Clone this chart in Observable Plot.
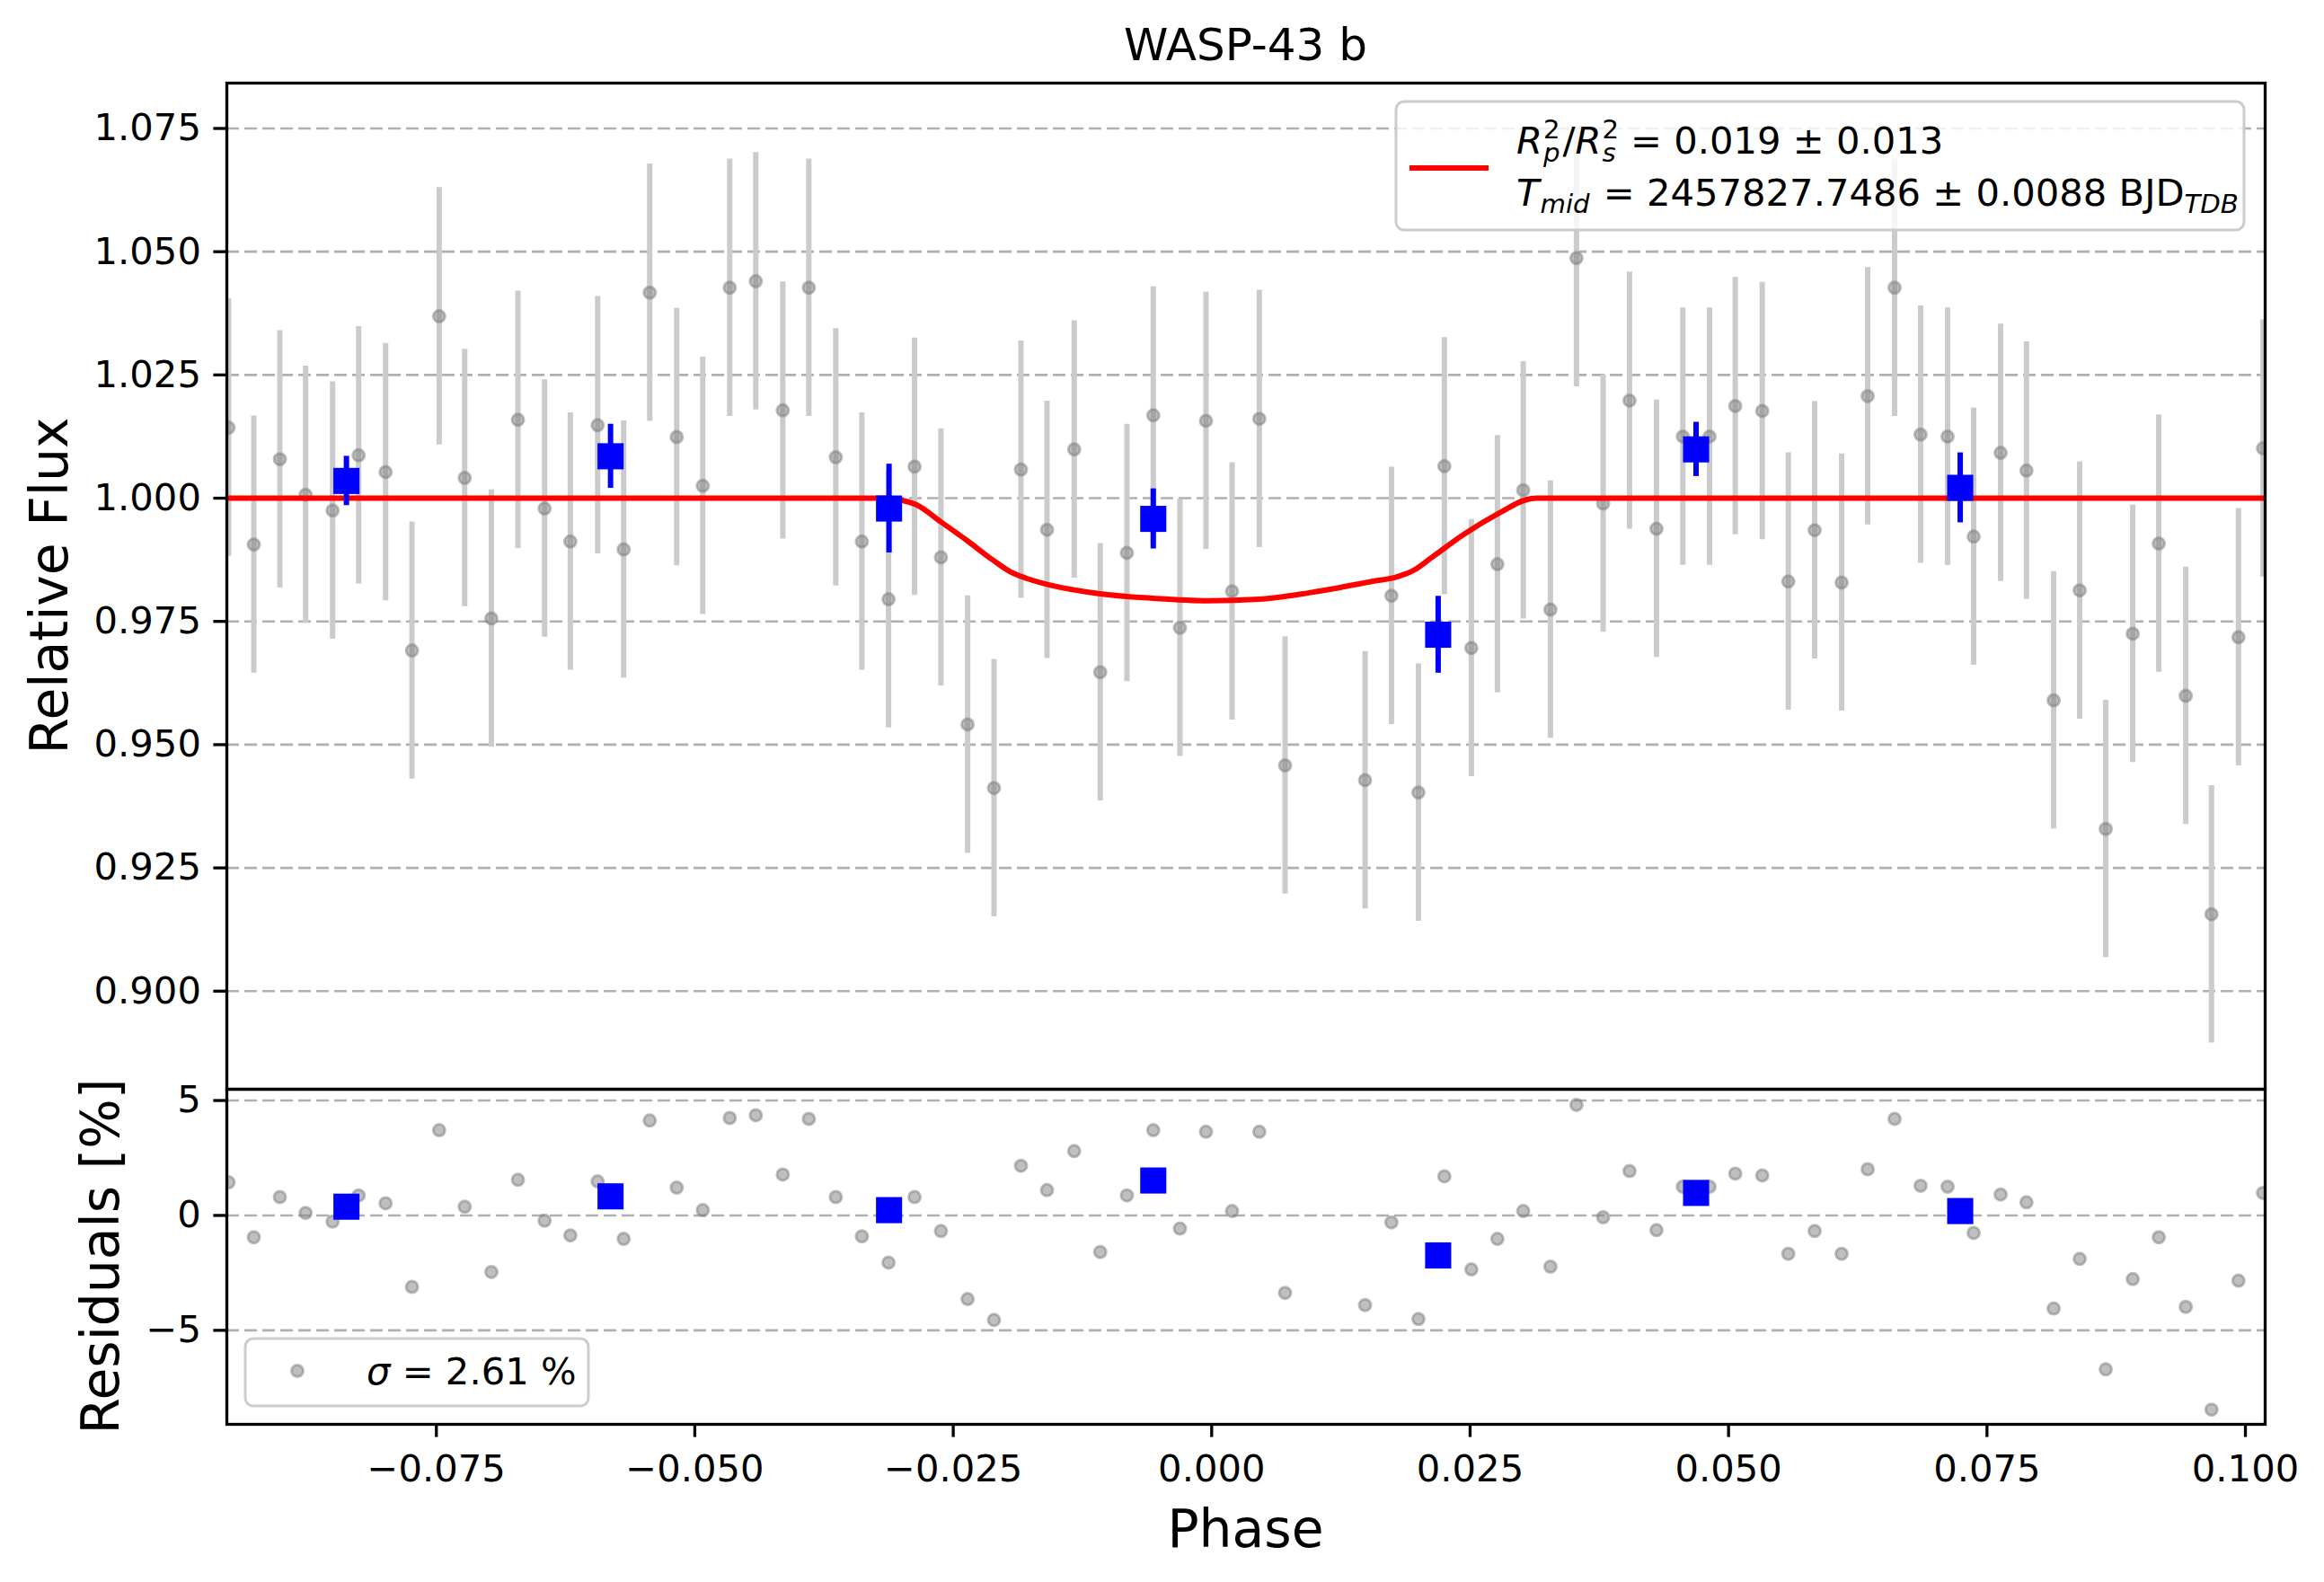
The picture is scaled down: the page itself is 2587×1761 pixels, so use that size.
<!DOCTYPE html>
<html>
<head>
<meta charset="utf-8">
<script src="https://cdn.jsdelivr.net/npm/d3@7"></script>
<script src="https://cdn.jsdelivr.net/npm/@observablehq/plot@0.6"></script>
<style>
  body { margin: 0; background: #fff; }
  #wrap { position: relative; width: 2587px; height: 1761px; background: #fff; overflow: hidden; font-family: "DejaVu Sans", sans-serif; }
  #wrap svg { position: absolute; left: 0; max-width: none !important; }
  #wrap svg text { white-space: pre; }
</style>
</head>
<body>
<div id="wrap"></div>
<script>
// ---------- data ----------
const phase = [
  -0.09510, -0.09266, -0.09014, -0.08765, -0.08504, -0.08252, -0.07991, -0.07736,
  -0.07473, -0.07226, -0.06968, -0.06711, -0.06453, -0.06204, -0.05940, -0.05688,
  -0.05436, -0.05175, -0.04923, -0.04662, -0.04410, -0.04149, -0.03897, -0.03636,
  -0.03384, -0.03126, -0.02874, -0.02619, -0.02361, -0.02106, -0.01845, -0.01593,
  -0.01330, -0.01078, -0.00820, -0.00565, -0.00307, -0.00055, 0.00197, 0.00461,
  0.00710, 0.01484, 0.01739, 0.02000, 0.02251,
  0.02512, 0.02764, 0.03014, 0.03277, 0.03529, 0.03787, 0.04042, 0.04303,
  0.04558, 0.04816, 0.05065, 0.05326, 0.05578, 0.05833, 0.06094, 0.06346,
  0.06606, 0.06858, 0.07119, 0.07371, 0.07632, 0.07882, 0.08145, 0.08397,
  0.08649, 0.08910, 0.09162, 0.09423, 0.09672, 0.09933, 0.10170
];
const flux = [
  1.0143, 0.9906, 1.0079, 1.0007, 0.9975, 1.0087, 1.0053, 0.9691,
  1.0369, 1.0041, 0.9756, 1.0159, 0.9979, 0.9912, 1.0148, 0.9896,
  1.0417, 1.0124, 1.0025, 1.0427, 1.0440, 1.0178, 1.0427, 1.0083,
  0.9912, 0.9795, 1.0064, 0.9880, 0.9541, 0.9412, 1.0058, 0.9936,
  1.0099, 0.9647, 0.9889, 1.0168, 0.9737, 1.0157, 0.9811, 1.0161,
  0.9458, 0.9428, 0.9802, 0.9403, 1.0065,
  0.9696, 0.9866, 1.0016, 0.9774, 1.0487, 0.9989, 1.0198, 0.9938,
  1.0125, 1.0125, 1.0187, 1.0177, 0.9831, 0.9935, 0.9829, 1.0207,
  1.0427, 1.0129, 1.0125, 0.9922, 1.0092, 1.0056, 0.9590, 0.9813,
  0.9329, 0.9725, 0.9908, 0.9599, 0.9156, 0.9718, 1.0101
];
const fluxErr = 0.0261;
const resid = [
  1.44, -0.95, 0.80, 0.11, -0.27, 0.87, 0.53, -3.11,
  3.71, 0.38, -2.46, 1.55, -0.23, -0.87, 1.48, -1.02,
  4.13, 1.21, 0.23, 4.24, 4.36, 1.78, 4.20, 0.80,
  -0.91, -2.05, 0.80, -0.68, -3.64, -4.55, 2.16, 1.10,
  2.80, -1.59, 0.87, 3.71, -0.57, 3.64, 0.19, 3.64,
  -3.37, -3.90, -0.30, -4.51, 1.70,
  -2.35, -1.02, 0.19, -2.23, 4.81, -0.08, 1.93, -0.64,
  1.25, 1.25, 1.82, 1.74, -1.67, -0.68, -1.67, 2.01,
  4.20, 1.29, 1.25, -0.76, 0.91, 0.57, -4.05, -1.89,
  -6.70, -2.77, -0.95, -3.98, -8.45, -2.84, 0.98
];

const binPhase = [-0.08370, -0.05815, -0.03121, -0.00565, 0.02191, 0.04686, 0.07241];
const binFlux  = [1.0035, 1.0085, 0.9979, 0.9958, 0.9723, 1.0099, 1.0021];
const binErr   = [0.0050, 0.0065, 0.0090, 0.0061, 0.0078, 0.0055, 0.0071];
const binRes   = [0.38, 0.83, 0.23, 1.52, -1.74, 0.98, 0.19];

const modelPhase = [-0.0953, -0.0312, -0.0300, -0.0285, -0.0262, -0.0236, -0.0212, -0.0195,
  -0.0180, -0.0155, -0.0108, -0.0057, -0.0004, 0.0046, 0.0097, 0.0155, 0.0180, 0.0195,
  0.0213, 0.0245, 0.0280, 0.0303, 0.0314, 0.1019];
const modelFlux = [1.0000, 1.0000, 0.9996, 0.9986, 0.9952, 0.9913, 0.9875, 0.9851,
  0.9838, 0.9823, 0.9806, 0.9797, 0.9792, 0.9795, 0.9809, 0.9831, 0.9841, 0.9853,
  0.9880, 0.9928, 0.9972, 0.9996, 1.0000, 1.0000];

const xTicks = [-0.075, -0.050, -0.025, 0.000, 0.025, 0.050, 0.075, 0.100];
const yMainTicks = [0.900, 0.925, 0.950, 0.975, 1.000, 1.025, 1.050, 1.075];
const yResTicks = [-5, 0, 5];
const xDomain = [-0.09527, 0.10191];
const yMainDomain = [0.8801, 1.0842];
const yResDomain = [-9.09, 5.49];

const titleText = "WASP-43 b";
const xLabel = "Phase";
const yMainLabel = "Relative Flux";
const yResLabel = "Residuals [%]";

// ---------- layout ----------
const W = 2587, H = 1761;
const L = 252, R = 66, T = 92, MID = 1212, B = 1585;
const FS = 41.7;

const pts = phase.map((p, i) => ({p, f: flux[i], r: resid[i]}));
const bins = binPhase.map((p, i) => ({p, f: binFlux[i], e: binErr[i], r: binRes[i]}));
const model = modelPhase.map((p, i) => ({p, f: modelFlux[i]}));

const gridStyle = {stroke: "#b0b0b0", strokeOpacity: 1, strokeWidth: 2.6, strokeDasharray: "14,6"};
const svgStyle = {fontFamily: "DejaVu Sans", fontSize: FS + "px", color: "black", background: "transparent", overflow: "visible"};
const dotStyle = {r: 6.5, fill: "gray", fillOpacity: 0.5, stroke: "gray", strokeOpacity: 0.5, strokeWidth: 3, clip: true};
const sqR = 16.4;

const wrap = document.getElementById("wrap");

const main = Plot.plot({
  width: W, height: MID,
  marginTop: T, marginLeft: L, marginRight: R, marginBottom: 0,
  x: {domain: xDomain, axis: null},
  y: {domain: yMainDomain},
  style: svgStyle,
  marks: [
    Plot.gridY(yMainTicks, gridStyle),
    Plot.ruleX(pts, {x: "p", y1: d => d.f - fluxErr, y2: d => d.f + fluxErr, stroke: "#cbcbcb", strokeWidth: 6, clip: true}),
    Plot.dot(pts, {x: "p", y: "f", ...dotStyle}),
    Plot.line(model, {x: "p", y: "f", stroke: "red", strokeWidth: 6, curve: "monotone-x", clip: true}),
    Plot.ruleX(bins, {x: "p", y1: d => d.f - d.e, y2: d => d.f + d.e, stroke: "blue", strokeWidth: 6}),
    Plot.dot(bins, {x: "p", y: "f", symbol: "square", r: sqR, fill: "blue", stroke: "none"}),
    Plot.axisY(yMainTicks, {tickFormat: d3.format(".3f"), tickSize: 14.6, tickPadding: 14, strokeWidth: 3.3, label: null}),
    Plot.frame({stroke: "black", strokeWidth: 3.3})
  ]
});
main.style.top = "0px";
wrap.appendChild(main);

const res = Plot.plot({
  width: W, height: H - MID,
  marginTop: 0, marginLeft: L, marginRight: R, marginBottom: H - B,
  x: {domain: xDomain},
  y: {domain: yResDomain},
  style: svgStyle,
  marks: [
    Plot.gridY(yResTicks, gridStyle),
    Plot.dot(pts, {x: "p", y: "r", ...dotStyle}),
    Plot.dot(bins, {x: "p", y: "r", symbol: "square", r: sqR, fill: "blue", stroke: "none"}),
    Plot.axisY(yResTicks, {tickFormat: d3.format("d"), tickSize: 14.6, tickPadding: 14, strokeWidth: 3.3, label: null}),
    Plot.axisX(xTicks, {tickFormat: d3.format(".3f"), tickSize: 14.6, tickPadding: 19, strokeWidth: 3.3, label: null}),
    Plot.frame({stroke: "black", strokeWidth: 3.3})
  ]
});
res.style.top = MID + "px";
wrap.appendChild(res);

// ---------- titles, labels, legends ----------
const ov = d3.create("svg")
  .attr("width", W).attr("height", H)
  .style("top", "0px").style("pointer-events", "none")
  .attr("font-family", "DejaVu Sans").attr("fill", "black");
wrap.appendChild(ov.node());

ov.append("text").attr("x", (L + W - R) / 2).attr("y", 67).attr("text-anchor", "middle").attr("font-size", 50).text(titleText);
ov.append("text").attr("x", (L + W - R) / 2).attr("y", 1722).attr("text-anchor", "middle").attr("font-size", 58.3).text(xLabel);
ov.append("text").attr("transform", `translate(75,${(T + MID) / 2}) rotate(-90)`).attr("text-anchor", "middle").attr("font-size", 58.3).text(yMainLabel);
ov.append("text").attr("transform", `translate(132,${(MID + B) / 2}) rotate(-90)`).attr("text-anchor", "middle").attr("font-size", 58.3).text(yResLabel);

// one <text> per legend line; segments as tspans placed by measured widths
function measure(s) {
  const t = ov.append("text").attr("font-size", s.size || FS).attr("font-style", s.it ? "italic" : "normal").text(s.t);
  const w = t.node().getComputedTextLength();
  t.remove();
  return w;
}
function rich(g, x, y, segs) {
  const text = g.append("text");
  let cx = x;
  for (const s of segs) {
    text.append("tspan").attr("x", cx).attr("y", y + (s.dy || 0))
      .attr("font-size", s.size || FS).attr("font-style", s.it ? "italic" : "normal").text(s.t);
    const w = measure(s);
    if (!s.hold) cx += w + (s.gap || 0);
  }
}

const SUB = 29.2;
// main legend
const lg = ov.append("g");
lg.append("rect").attr("x", 1554).attr("y", 113).attr("width", 944).attr("height", 143).attr("rx", 9)
  .attr("fill", "white").attr("fill-opacity", 0.8).attr("stroke", "#cccccc").attr("stroke-width", 3);
lg.append("line").attr("x1", 1569).attr("x2", 1657).attr("y1", 187).attr("y2", 187).attr("stroke", "red").attr("stroke-width", 6);
rich(lg, 1688, 171, [
  {t: "R", it: true, gap: 1},
  {t: "2", size: SUB, dy: -17, hold: true},
  {t: "p", size: SUB, it: true, dy: 9, gap: 3},
  {t: "/"},
  {t: "R", it: true, gap: 1},
  {t: "2", size: SUB, dy: -17, hold: true},
  {t: "s", size: SUB, it: true, dy: 9, gap: 3},
  {t: " = 0.019 ± 0.013"}
]);
rich(lg, 1688, 229, [
  {t: "T", it: true, gap: 1},
  {t: "mid", size: SUB, it: true, dy: 8, gap: 2},
  {t: " = 2457827.7486 ± 0.0088 BJD"},
  {t: "TDB", size: SUB, it: true, dy: 8}
]);

// residual legend
const rg = ov.append("g");
rg.append("rect").attr("x", 273).attr("y", 1490).attr("width", 382).attr("height", 75).attr("rx", 9)
  .attr("fill", "white").attr("fill-opacity", 0.8).attr("stroke", "#cccccc").attr("stroke-width", 3);
rg.append("circle").attr("cx", 331).attr("cy", 1526).attr("r", 6.5)
  .attr("fill", "gray").attr("fill-opacity", 0.5).attr("stroke", "gray").attr("stroke-opacity", 0.5).attr("stroke-width", 3);
rich(rg, 408, 1541, [
  {t: "σ", it: true},
  {t: " = 2.61 %"}
]);
</script>
</body>
</html>
